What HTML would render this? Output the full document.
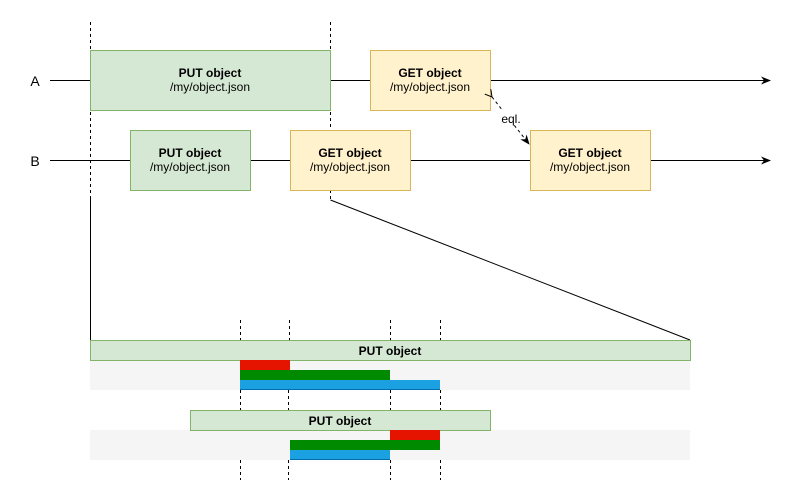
<!DOCTYPE html>
<html><head><meta charset="utf-8"><style>html,body{margin:0;padding:0;background:#fff}svg{display:block}text{font-family:"Liberation Sans",Arial,sans-serif;fill:#000}</style></head><body>
<svg width="799" height="502" viewBox="0 0 799 502" xmlns="http://www.w3.org/2000/svg">
<defs>
<marker id="ar" markerWidth="10" markerHeight="8" refX="9" refY="4" orient="auto" markerUnits="userSpaceOnUse"><path d="M0,0 L10,4 L0,8 L3,4 Z" fill="#000"/></marker>
<marker id="ao" markerWidth="8" markerHeight="8" refX="7" refY="4" orient="auto" markerUnits="userSpaceOnUse"><path d="M0,0 L7,4 L0,8" fill="none" stroke="#000" stroke-width="1"/></marker>
</defs>
<line x1="90.5" y1="22" x2="90.5" y2="198" stroke="#000" stroke-dasharray="3,3"/>
<line x1="330.5" y1="22" x2="330.5" y2="200" stroke="#000" stroke-dasharray="3,3"/>
<line x1="90.5" y1="198" x2="90.5" y2="340" stroke="#000"/>
<line x1="330.5" y1="200" x2="690" y2="340" stroke="#000"/>
<line x1="50" y1="80.5" x2="770" y2="80.5" stroke="#000" marker-end="url(#ar)"/>
<line x1="50" y1="160.5" x2="770" y2="160.5" stroke="#000" marker-end="url(#ar)"/>
<text x="35" y="86" font-size="14" text-anchor="middle">A</text>
<text x="35" y="166" font-size="14" text-anchor="middle">B</text>
<g font-size="12" text-anchor="middle">
<rect x="90.5" y="50.5" width="240" height="60" fill="#d5e8d4" stroke="#82b366"/>
<text x="210" y="77" font-weight="bold">PUT object</text><text x="210" y="91">/my/object.json</text>
<rect x="370.5" y="50.5" width="120" height="60" fill="#fff2cc" stroke="#d6b656"/>
<text x="430" y="77" font-weight="bold">GET object</text><text x="430" y="91">/my/object.json</text>
<rect x="130.5" y="130.5" width="120" height="60" fill="#d5e8d4" stroke="#82b366"/>
<text x="190" y="157" font-weight="bold">PUT object</text><text x="190" y="171">/my/object.json</text>
<rect x="290.5" y="130.5" width="120" height="60" fill="#fff2cc" stroke="#d6b656"/>
<text x="350" y="157" font-weight="bold">GET object</text><text x="350" y="171">/my/object.json</text>
<rect x="530.5" y="130.5" width="120" height="60" fill="#fff2cc" stroke="#d6b656"/>
<text x="590" y="157" font-weight="bold">GET object</text><text x="590" y="171">/my/object.json</text>
</g>
<line x1="492" y1="97" x2="529" y2="144" stroke="#000" stroke-dasharray="3,3" marker-start="url(#ao)" marker-end="url(#ar)"/>
<rect x="498" y="111" width="26" height="14" fill="#fff"/>
<text x="511" y="123" font-size="12" text-anchor="middle">eql.</text>
<g stroke="#000" stroke-dasharray="3,3">
<line x1="240.5" y1="320" x2="240.5" y2="340"/><line x1="289.5" y1="320" x2="289.5" y2="340"/><line x1="390.5" y1="320" x2="390.5" y2="340"/><line x1="440.5" y1="320" x2="440.5" y2="340"/>
<line x1="240.5" y1="390" x2="240.5" y2="410"/><line x1="288.5" y1="390" x2="288.5" y2="410"/><line x1="390.5" y1="390" x2="390.5" y2="410"/><line x1="440.5" y1="390" x2="440.5" y2="410"/>
<line x1="240.5" y1="460" x2="240.5" y2="480"/><line x1="288.5" y1="460" x2="288.5" y2="480"/><line x1="390.5" y1="460" x2="390.5" y2="480"/><line x1="440.5" y1="460" x2="440.5" y2="480"/>
</g>
<rect x="90" y="360" width="600" height="30" fill="#f5f5f5"/>
<rect x="90.5" y="340.5" width="600" height="20" fill="#d5e8d4" stroke="#82b366"/>
<text x="390" y="355" font-size="12" font-weight="bold" text-anchor="middle">PUT object</text>
<rect x="240" y="360" width="50" height="10" fill="#e51400"/>
<rect x="240" y="370" width="150" height="10" fill="#008a00"/>
<rect x="240" y="380" width="200" height="10" fill="#1ba1e2"/>
<line x1="240" y1="389.5" x2="440" y2="389.5" stroke="#006eaf"/>
<rect x="90" y="430" width="600" height="30" fill="#f5f5f5"/>
<rect x="190.5" y="410.5" width="300" height="20" fill="#d5e8d4" stroke="#82b366"/>
<text x="340" y="425" font-size="12" font-weight="bold" text-anchor="middle">PUT object</text>
<rect x="390" y="430" width="50" height="10" fill="#e51400"/>
<rect x="290" y="440" width="150" height="10" fill="#008a00"/>
<rect x="290" y="450" width="100" height="10" fill="#1ba1e2"/>
<line x1="290" y1="459.5" x2="390" y2="459.5" stroke="#006eaf"/>
</svg>
</body></html>
